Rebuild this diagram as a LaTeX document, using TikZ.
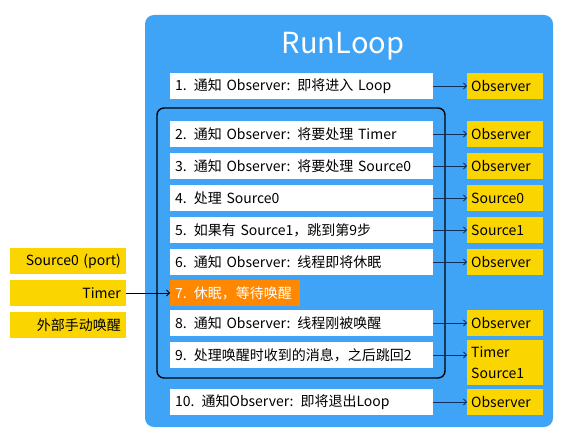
\documentclass[tikz,border=0pt]{standalone}
\usepackage{fontspec}
\setmainfont{Noto Sans CJK SC}
\usetikzlibrary{arrows.meta}
\definecolor{runblue}{RGB}{64,164,246}
\definecolor{tagyellow}{RGB}{250,213,0}
\definecolor{sleeporange}{RGB}{255,136,0}
\definecolor{arrownavy}{RGB}{20,45,95}

\begin{document}
\begin{tikzpicture}[x=1pt,y=-1pt,
    stepbox/.style={fill=white, anchor=west, text width=253pt, inner xsep=5pt, inner ysep=0pt, minimum height=26pt, align=left, font=\fontsize{14}{16}\selectfont},
    obsbox/.style={fill=tagyellow, anchor=west, text width=68pt, inner xsep=4pt, inner ysep=0pt, minimum height=26pt, align=left, font=\fontsize{14}{21}\selectfont},
    srcbox/.style={fill=tagyellow, anchor=east, text width=106pt, inner xsep=5pt, inner ysep=0pt, minimum height=26pt, align=right, font=\fontsize{14}{16}\selectfont},
    obsarrow/.style={draw=arrownavy, thick, -{Straight Barb[length=3pt,width=6pt]}}]
        \useasboundingbox (0,0) rectangle (572,446);

        \node [style={fill=runblue, rounded corners=9pt, minimum width=408pt, minimum height=412pt}] (RL) at (349,221) {};
        \node [style={text=white, font=\fontsize{29}{32}\selectfont}] (L) at (343,46) {RunLoop};

        \node [style={draw=black, line width=1.4pt, rounded corners=7pt, minimum width=288pt, minimum height=270pt}] (F) at (301,243) {};

        \node [stepbox] (S1) at (170,86) {1. 通知 Observer: 即将进入 Loop};
        \node [stepbox] (S2) at (170,134) {2. 通知 Observer: 将要处理 Timer};
        \node [stepbox] (S3) at (170,166) {3. 通知 Observer: 将要处理 Source0};
        \node [stepbox] (S4) at (170,198) {4. 处理 Source0};
        \node [stepbox] (S5) at (170,230) {5. 如果有 Source1，跳到第9步};
        \node [stepbox] (S6) at (170,262) {6. 通知 Observer: 线程即将休眠};
        \node [stepbox, fill=sleeporange, text=white, text width=120pt] (S7) at (170,293) {7. 休眠，等待唤醒};
        \node [stepbox] (S8) at (170,323) {8. 通知 Observer: 线程刚被唤醒};
        \node [stepbox] (S9) at (170,355) {9. 处理唤醒时收到的消息，之后跳回2};
        \node [stepbox] (S10) at (170,402) {10. 通知Observer: 即将退出Loop};

        \node [obsbox] (O1) at (467,86) {Observer};
        \node [obsbox] (O2) at (467,134) {Observer};
        \node [obsbox] (O3) at (467,166) {Observer};
        \node [obsbox] (O4) at (467,198) {Source0};
        \node [obsbox] (O5) at (467,230) {Source1};
        \node [obsbox] (O6) at (467,262) {Observer};
        \node [obsbox] (O8) at (467,323) {Observer};
        \node [obsbox, minimum height=45pt] (O9) at (467,362.5) {Timer\\Source1};
        \node [obsbox] (O10) at (467,402) {Observer};

        \foreach \i in {1,2,3,4,5,6,8,10}
            \draw [obsarrow] (S\i.east) -- (O\i.west);
        \draw [obsarrow] (S9.east) -- (S9.east -| O9.west);

        % wake-up sources
        \node [srcbox] (W1) at (126,261) {Source0 (port)};
        \node [srcbox] (W2) at (126,293) {Timer};
        \node [srcbox] (W3) at (126,325) {外部手动唤醒};
        \draw [obsarrow, draw=black] (W2.east) -- (S7.west);

    \end{tikzpicture}
\end{document}
